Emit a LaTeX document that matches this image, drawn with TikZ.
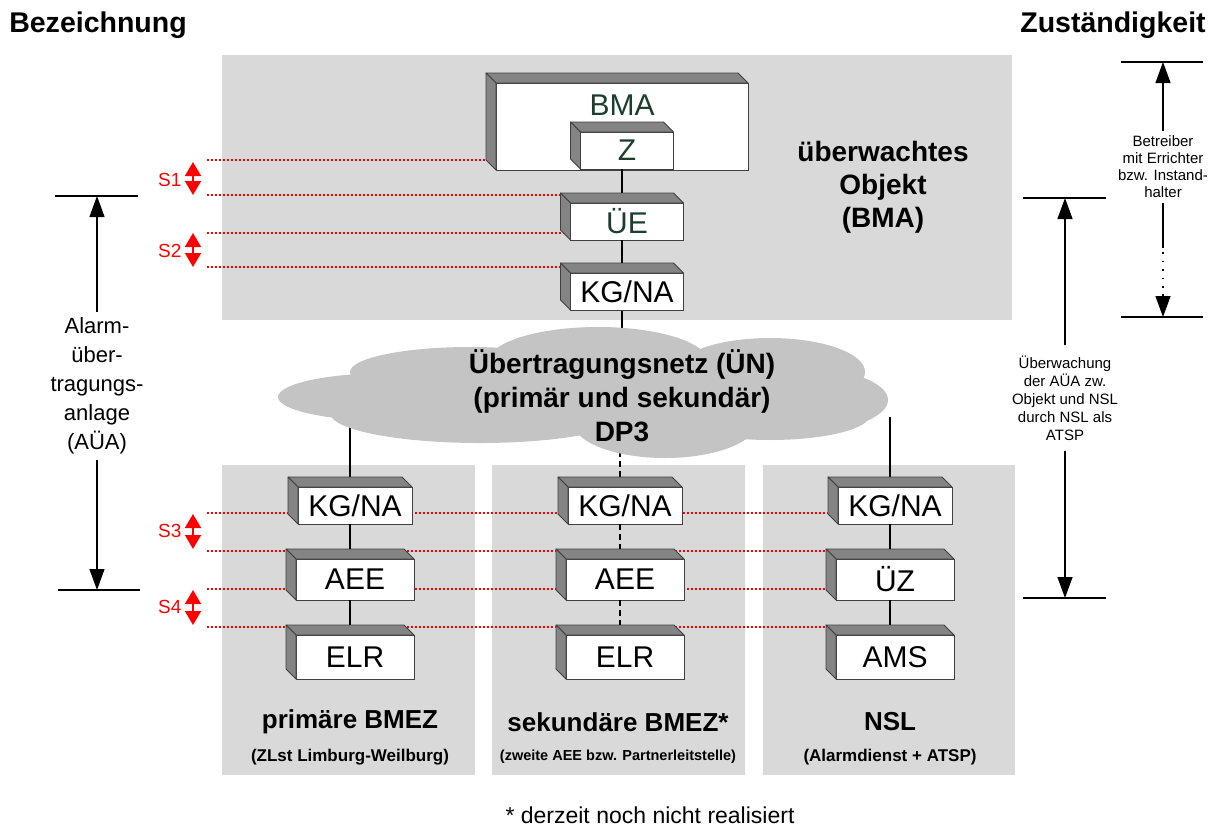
\documentclass[tikz,border=0pt]{standalone}
\usepackage{fontspec}
\setmainfont{Liberation Sans}
\usepackage{tikz}
\usetikzlibrary{arrows.meta}
\usetikzlibrary{backgrounds}

\definecolor{hellgrau}{RGB}{217,217,217}
\definecolor{wolkengrau}{RGB}{196,196,196}
\definecolor{seitengrau}{RGB}{132,132,132}
\definecolor{dunkelgruen}{RGB}{28,62,44}

\newcommand{\fs}[2]{\fontsize{#1}{#2}\selectfont}

\begin{document}
\begin{tikzpicture}[x = 1pt, y = -1pt,
    quader/.style = {draw = black!75, fill = white, line width = 0.8pt, inner sep = 0pt, outer sep = 0pt, font = \fs{30}{32}},
    reihea/.style = {quader, minimum width = 114pt, minimum height = 37pt},
    reiheb/.style = {quader, minimum width = 118pt, minimum height = 41pt},
    reihec/.style = {quader, minimum width = 118pt, minimum height = 44pt},
    seite/.style = {fill = seitengrau, draw = black!75, line width = 0.8pt, line join = round},
    linie/.style = {line width = 1.2pt},
    trenn/.style = {red, line width = 1.4pt, dash pattern = on 2pt off 2pt},
    spfeil/.style = {red, line width = 1.6pt, {Triangle[width = 16pt, length = 14pt]}-{Triangle[width = 16pt, length = 14pt]}},
    slabel/.style = {red, font = \fs{19}{20}, anchor = east},
    mass/.style = {line width = 1.2pt, -{Triangle[width = 15pt, length = 21pt]}}]
    \useasboundingbox (0, 0) rectangle (1222, 827);

    \node [font = \bfseries\fs{28.5}{30}] (bez) at (98, 25) {Bezeichnung};
    \node [font = \bfseries\fs{28.5}{30}] (zust) at (1113, 25) {Zuständigkeit};

    \node [quader, minimum width = 252pt, minimum height = 87pt] (bma) at (622, 126.5) {};
    \node [dunkelgruen, font = \fs{30}{32}] (bmatxt) at (622, 105) {BMA};
    \node [quader, text = dunkelgruen, minimum width = 93pt, minimum height = 37pt] (z) at (627, 150.5) {Z};
    \node [quader, text = dunkelgruen, minimum width = 113pt, minimum height = 37pt] (ue) at (627, 221.5) {ÜE};
    \node [quader, minimum width = 113pt, minimum height = 37pt] (kg0) at (627, 291.5) {KG/NA};
    \node [font = \bfseries\fs{28}{33}, align = center] (objekt) at (883, 187) {überwachtes\\Objekt\\(BMA)};

    \node [reihea] (kg1) at (355, 505.5) {KG/NA};
    \node [reiheb] (aee1) at (355, 579.5) {AEE};
    \node [reihec] (elr1) at (355, 657) {ELR};
    \node [reihea] (kg2) at (625, 505.5) {KG/NA};
    \node [reiheb] (aee2) at (625, 579.5) {AEE};
    \node [reihec] (elr2) at (625, 657) {ELR};
    \node [reihea] (kg3) at (895, 505.5) {KG/NA};
    \node [reiheb] (uez) at (895, 579.5) {ÜZ};
    \node [reihec] (ams) at (895, 657) {AMS};

    \foreach \b in {bma, z, ue, kg0, kg1, aee1, elr1, kg2, aee2, elr2, kg3, uez, ams} {
        \filldraw [seite] (\b.north west) -- ++(-10, -10) -- ([shift = {(-10, -10)}] \b.north east) -- (\b.north east) -- cycle;
        \filldraw [seite] (\b.north west) -- ++(-10, -10) -- ([shift = {(-10, -10)}] \b.south west) -- (\b.south west) -- cycle;
    }

    \draw [linie] ([xshift = -5pt] z.south) -- ([shift = {(-5, -10)}] ue.north);
    \draw [linie] ([xshift = -5pt] ue.south) -- ([shift = {(-5, -10)}] kg0.north);
    \draw [linie] ([xshift = -5pt] kg1.south) -- ([shift = {(-5, -10)}] aee1.north);
    \draw [linie] ([xshift = -5pt] aee1.south) -- ([shift = {(-5, -10)}] elr1.north);
    \draw [linie, dash pattern = on 6pt off 4pt] ([xshift = -5pt] kg2.south) -- ([shift = {(-5, -10)}] aee2.north);
    \draw [linie, dash pattern = on 6pt off 4pt] ([xshift = -5pt] aee2.south) -- ([shift = {(-5, -10)}] elr2.north);
    \draw [linie] ([xshift = -5pt] kg3.south) -- ([shift = {(-5, -10)}] uez.north);
    \draw [linie] ([xshift = -5pt] uez.south) -- ([shift = {(-5, -10)}] ams.north);

    \node [font = \bfseries\fs{28}{34}, align = center] (netz) at (622, 396) {Übertragungsnetz (ÜN)\\(primär und sekundär)\\DP3};

    \coordinate (t1a) at (207, 160);
    \coordinate (t1b) at (207, 195);
    \coordinate (t2a) at (207, 233);
    \coordinate (t2b) at (207, 267);
    \coordinate (t3a) at (207, 513);
    \coordinate (t3b) at (207, 551);
    \coordinate (t4a) at (207, 589);
    \coordinate (t4b) at (207, 627);
    \node [slabel] (s1) at (185, 180) {S1};
    \node [slabel] (s2) at (185, 251) {S2};
    \node [slabel] (s3) at (185, 531) {S3};
    \node [slabel] (s4) at (185, 607) {S4};
    \draw [spfeil] (193, 162) -- (193, 195);
    \draw [spfeil] (193, 233) -- (193, 267);
    \draw [spfeil] (193, 514) -- (193, 549);
    \draw [spfeil] (193, 590) -- (193, 625);

    \begin{pgfonlayer}{background}
        \fill [hellgrau] (222, 55) rectangle (1012, 320);
        \fill [hellgrau] (222, 465) rectangle (475, 775);
        \fill [hellgrau] (492, 465) rectangle (745, 775);
        \fill [hellgrau] (763, 465) rectangle (1015, 775);
        \draw [trenn] (t1a) -- (t1a -| bma.center);
        \draw [trenn] (t1b) -- (t1b -| ue.center);
        \draw [trenn] (t2a) -- (t2a -| ue.center);
        \draw [trenn] (t2b) -- (t2b -| kg0.center);
        \draw [trenn] (t3a) -- (t3a -| kg3.center);
        \draw [trenn] (t3b) -- (t3b -| uez.center);
        \draw [trenn] (t4a) -- (t4a -| uez.center);
        \draw [trenn] (t4b) -- (t4b -| ams.center);
        \draw [linie] ([xshift = -5pt] kg0.south) -- ++(0, 60);
        \draw [linie] ([shift = {(-5, -10)}] kg1.north) -- ++(0, -80);
        \draw [linie, dash pattern = on 6pt off 4pt] ([shift = {(-5, -10)}] kg2.north) -- ++(0, -40);
        \draw [linie] ([shift = {(-5, -10)}] kg3.north) -- ++(0, -60);
        \fill [wolkengrau] (390, 397) ellipse [x radius = 112, y radius = 24];
        \fill [wolkengrau] (470, 372) ellipse [x radius = 120, y radius = 25];
        \fill [wolkengrau] (598, 362) ellipse [x radius = 110, y radius = 35];
        \fill [wolkengrau] (770, 372) ellipse [x radius = 95, y radius = 34];
        \fill [wolkengrau] (800, 400) ellipse [x radius = 88, y radius = 32];
        \fill [wolkengrau] (480, 413) ellipse [x radius = 150, y radius = 30];
        \fill [wolkengrau] (665, 422) ellipse [x radius = 92, y radius = 36];
        \fill [wolkengrau] (770, 415) ellipse [x radius = 100, y radius = 25];
        \fill [wolkengrau] (600, 395) ellipse [x radius = 200, y radius = 35];
    \end{pgfonlayer}

    \coordinate (l1) at (55, 196);
    \coordinate (l2) at (138, 196);
    \coordinate (l3) at (58, 590);
    \coordinate (l4) at (140, 590);
    \draw [linie] (l1) -- (l2);
    \draw [linie] (l3) -- (l4);
    \node [font = \fs{22}{29}, align = center, inner sep = 6pt] (aua) at (97, 386) {Alarm-\\über-\\tragungs-\\anlage\\(AÜA)};
    \draw [mass] (aua.north) -- (aua.north |- l1);
    \draw [mass] (aua.south) -- (aua.south |- l3);

    \coordinate (b1) at (1121, 62);
    \coordinate (b2) at (1203, 62);
    \coordinate (b3) at (1121, 317);
    \coordinate (b4) at (1203, 317);
    \draw [linie] (b1) -- (b2);
    \draw [linie] (b3) -- (b4);
    \node [font = \fs{15}{17}, align = center, inner sep = 5pt] (betreiber) at (1163, 167) {Betreiber\\mit Errichter\\bzw. Instand-\\halter};
    \draw [mass] (betreiber.north) -- (betreiber.north |- b1);
    \draw [linie] (betreiber.south) -- (1163, 248);
    \draw [linie, dash pattern = on 1.5pt off 7pt] (1163, 252) -- (1163, 294);
    \draw [mass] (1163, 294) -- (betreiber.south |- b3);

    \coordinate (u1) at (1023, 198);
    \coordinate (u2) at (1106, 198);
    \coordinate (u3) at (1023, 598);
    \coordinate (u4) at (1106, 598);
    \draw [linie] (u1) -- (u2);
    \draw [linie] (u3) -- (u4);
    \node [font = \fs{15}{18}, align = center, inner sep = 10pt] (ueberw) at (1065, 398) {Überwachung\\der AÜA zw.\\Objekt und NSL\\durch NSL als\\ATSP};
    \draw [mass] (ueberw.north) -- (ueberw.north |- u1);
    \draw [mass] (ueberw.south) -- (ueberw.south |- u3);

    \node [font = \bfseries\fs{26}{28}] (bmez1) at (350, 722) {primäre BMEZ};
    \node [font = \bfseries\fs{17}{19}] (zlst) at (350, 757) {(ZLst Limburg-Weilburg)};
    \node [font = \bfseries\fs{26}{28}] (bmez2) at (618, 722) {sekundäre BMEZ*};
    \node [font = \bfseries\fs{14.5}{16}] (partner) at (618, 757) {(zweite AEE bzw. Partnerleitstelle)};
    \node [font = \bfseries\fs{26}{28}] (nsl) at (890, 722) {NSL};
    \node [font = \bfseries\fs{17}{19}] (alarm) at (890, 757) {(Alarmdienst + ATSP)};

    \node [font = \fs{23}{25}] (fuss) at (650, 815) {* derzeit noch nicht realisiert};
\end{tikzpicture}
\end{document}
